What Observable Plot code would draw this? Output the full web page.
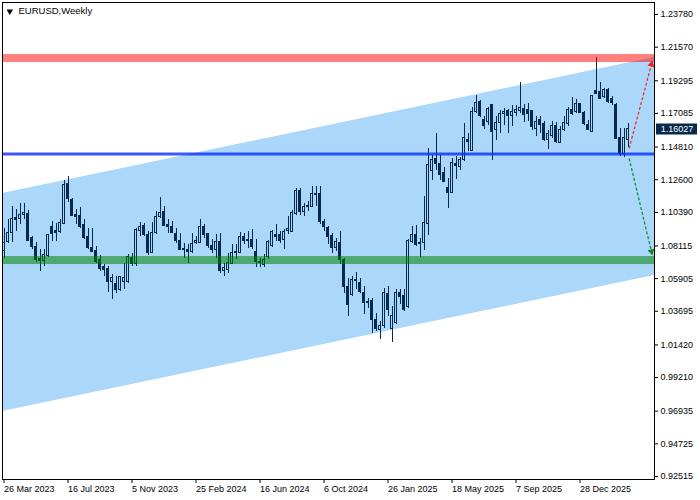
<!DOCTYPE html>
<html><head><meta charset="utf-8">
<script src="https://cdn.jsdelivr.net/npm/d3@7"></script>
<script src="https://cdn.jsdelivr.net/npm/@observablehq/plot@0.6"></script>
<style>html,body{margin:0;padding:0;background:#fff;}</style>
</head><body><div id="chart"></div>
<script>
// Weekly candles (Sunday dates) from 26 Mar 2023 to 22 Mar 2026
const firstWeek = "2023-03-26";
const lastWeek = "2026-03-22";
const open = [1.0778,1.0841,1.0902,1.0999,1.0992,1.1021,1.1028,1.0864,1.0803,1.0722,1.0713,1.0745,1.0940,1.0913,1.0909,1.0961,1.1231,1.1123,1.1021,1.1015,1.0954,1.0875,1.0796,1.0778,1.0718,1.0666,1.0655,1.0565,1.0556,1.0515,1.0568,1.0565,1.0733,1.0690,1.0916,1.0947,1.0886,1.0767,1.0898,1.1010,1.1044,1.0954,1.0943,1.0893,1.0846,1.0792,1.0785,1.0774,1.0830,1.0835,1.0938,1.0893,1.0812,1.0785,1.0841,1.0639,1.0650,1.0691,1.0763,1.0767,1.0875,1.0848,1.0853,1.0772,1.0706,1.0684,1.0740,1.0808,1.0886,1.0886,1.0853,1.0916,1.0909,1.1028,1.1186,1.1044,1.1082,1.1078,1.1156,1.1163,1.0976,1.0931,1.0879,1.0796,1.0834,1.0717,1.0537,1.0481,1.0582,1.0560,1.0492,1.0433,1.0436,1.0312,1.0245,1.0272,1.0485,1.0249,1.0290,1.0492,1.0474,1.0398,1.0841,1.0886,1.0834,1.0830,1.0960,1.1320,1.1397,1.1365,1.1302,1.1201,1.1172,1.1365,1.1343,1.1392,1.1532,1.1455,1.1719,1.1786,1.1667,1.1651,1.1764,1.1595,1.1644,1.1707,1.1725,1.1689,1.1712,1.1725,1.1741,1.1734,1.1725,1.1606,1.1667,1.1635,1.1527,1.1554,1.1622,1.1509,1.1595,1.1635,1.1734,1.1719,1.1770,1.1712,1.1629,1.1584,1.1858,1.1853,1.1820,1.1869,1.1809,1.1764,1.1545,1.1433,1.1532];
const high = [1.0931,1.0988,1.1082,1.1055,1.1096,1.1100,1.1050,1.0875,1.0835,1.0785,1.0785,1.0891,1.0976,1.0965,1.0992,1.1258,1.1280,1.1134,1.1055,1.1073,1.0988,1.0931,1.0931,1.0808,1.0745,1.0684,1.0673,1.0616,1.0605,1.0605,1.0695,1.0751,1.0763,1.0931,1.0970,1.0965,1.0909,1.0970,1.1044,1.1141,1.1078,1.0988,1.0976,1.0931,1.0898,1.0830,1.0819,1.0893,1.0875,1.0988,1.0954,1.0898,1.0853,1.0886,1.0893,1.0695,1.0763,1.0819,1.0819,1.0902,1.0898,1.0909,1.0920,1.0857,1.0729,1.0751,1.0848,1.0916,1.0954,1.0909,1.0920,1.1010,1.1051,1.1201,1.1201,1.1100,1.1111,1.1213,1.1217,1.1213,1.0988,1.0943,1.0897,1.0863,1.0908,1.0728,1.0593,1.0605,1.0632,1.0593,1.0537,1.0458,1.0458,1.0357,1.0301,1.0526,1.0537,1.0402,1.0519,1.0515,1.0515,1.0852,1.0942,1.0953,1.0863,1.1145,1.1471,1.1426,1.1573,1.1426,1.1343,1.1269,1.1404,1.1420,1.1410,1.1640,1.1572,1.1752,1.1831,1.1793,1.1689,1.1752,1.1770,1.1685,1.1730,1.1741,1.1734,1.1764,1.1764,1.1921,1.1770,1.1775,1.1730,1.1685,1.1685,1.1651,1.1595,1.1651,1.1645,1.1622,1.1685,1.1752,1.1815,1.1802,1.1775,1.1719,1.1662,1.1831,1.2085,1.1921,1.1876,1.1876,1.1820,1.1775,1.1606,1.1606,1.1640];
const low = [1.0729,1.0826,1.0834,1.0909,1.0954,1.0988,1.0841,1.0785,1.0700,1.0639,1.0673,1.0736,1.0841,1.0841,1.0898,1.0954,1.1105,1.1010,1.0954,1.0931,1.0853,1.0785,1.0767,1.0695,1.0639,1.0605,1.0497,1.0452,1.0493,1.0504,1.0520,1.0560,1.0673,1.0673,1.0875,1.0875,1.0745,1.0758,1.0886,1.0999,1.0943,1.0898,1.0893,1.0826,1.0778,1.0729,1.0691,1.0763,1.0819,1.0826,1.0864,1.0796,1.0763,1.0729,1.0628,1.0605,1.0623,1.0684,1.0722,1.0763,1.0819,1.0796,1.0785,1.0668,1.0668,1.0668,1.0718,1.0803,1.0841,1.0826,1.0785,1.0886,1.0902,1.1021,1.1021,1.1010,1.1044,1.1073,1.1078,1.0954,1.0909,1.0819,1.0762,1.0773,1.0683,1.0492,1.0335,1.0470,1.0515,1.0492,1.0346,1.0391,1.0222,1.0233,1.0178,1.0256,1.0335,1.0160,1.0278,1.0413,1.0368,1.0391,1.0830,1.0807,1.0735,1.0780,1.0880,1.1257,1.1320,1.1257,1.1239,1.1066,1.1167,1.1260,1.1320,1.1381,1.1449,1.1449,1.1707,1.1680,1.1600,1.1629,1.1392,1.1527,1.1572,1.1629,1.1572,1.1617,1.1685,1.1707,1.1650,1.1651,1.1595,1.1550,1.1572,1.1516,1.1465,1.1539,1.1505,1.1505,1.1584,1.1617,1.1696,1.1708,1.1708,1.1629,1.1590,1.1577,1.1838,1.1802,1.1809,1.1775,1.1764,1.1530,1.1415,1.1410,1.1478];
const close = [1.0834,1.0902,1.0992,1.0988,1.1021,1.1033,1.0848,1.0803,1.0718,1.0709,1.0749,1.0884,1.0893,1.0898,1.0970,1.1224,1.1127,1.1015,1.1006,1.0943,1.0864,1.0796,1.0774,1.0704,1.0655,1.0646,1.0571,1.0592,1.0511,1.0601,1.0594,1.0736,1.0688,1.0920,1.0943,1.0886,1.0763,1.0898,1.1010,1.1037,1.0947,1.0938,1.0898,1.0846,1.0785,1.0785,1.0774,1.0826,1.0846,1.0938,1.0886,1.0808,1.0785,1.0841,1.0639,1.0664,1.0695,1.0763,1.0774,1.0871,1.0848,1.0853,1.0803,1.0706,1.0695,1.0718,1.0841,1.0909,1.0875,1.0848,1.0909,1.0925,1.1033,1.1186,1.1044,1.1078,1.1075,1.1163,1.1163,1.0976,1.0938,1.0875,1.0796,1.0841,1.0720,1.0537,1.0413,1.0582,1.0575,1.0497,1.0425,1.0425,1.0312,1.0249,1.0272,1.0492,1.0375,1.0335,1.0492,1.0465,1.0380,1.0845,1.0886,1.0818,1.0825,1.0965,1.1359,1.1392,1.1365,1.1291,1.1246,1.1167,1.1370,1.1350,1.1392,1.1545,1.1516,1.1719,1.1779,1.1689,1.1622,1.1741,1.1584,1.1644,1.1707,1.1719,1.1689,1.1719,1.1730,1.1748,1.1696,1.1703,1.1617,1.1651,1.1629,1.1527,1.1568,1.1622,1.1516,1.1595,1.1644,1.1734,1.1703,1.1770,1.1712,1.1635,1.1595,1.1824,1.1842,1.1809,1.1865,1.1786,1.1779,1.1535,1.1433,1.1543,1.16027];

// Price axis labels (right) and date axis labels (bottom)
const yTicks = [1.23780,1.21570,1.19295,1.17085,1.14810,1.12600,1.10390,1.08115,1.05905,1.03695,1.01420,0.99210,0.96935,0.94725,0.92515];
const xTickDates = ["2023-03-26","2023-07-16","2023-11-05","2024-02-25","2024-06-16","2024-10-06","2025-01-26","2025-05-18","2025-09-07","2025-12-28"];
const xTickLabels = ["26 Mar 2023","16 Jul 2023","5 Nov 2023","25 Feb 2024","16 Jun 2024","6 Oct 2024","26 Jan 2025","18 May 2025","7 Sep 2025","28 Dec 2025"];

// Analysis objects
const channelUpper = [1.1167, 1.2087];   // at left and right edge
const channelLower = [0.9691, 1.0612];
const resistanceBand = [1.2053, 1.2107];
const supportBand = [1.0686, 1.0740];
const pivotLevel = 1.1434;
const arrowStartDate = "2026-03-24";
const arrowEndDate = "2026-05-02";
const upArrow = [1.1471, 1.2040];
const downArrow = [1.1404, 1.0774];
const currentPrice = 1.16027;

const navy = "#06294c";
const P = s => new Date(s + "T00:00:00Z");
const dates = d3.utcWeek.range(P(firstWeek), d3.utcDay.offset(P(lastWeek), 1));
const candles = dates.map((date, i) => ({date, open: open[i], high: high[i], low: low[i], close: close[i],
  top: Math.max(open[i], close[i]), bot: Math.min(open[i], close[i])}));
const bull = candles.filter(d => d.close >= d.open);
const bear = candles.filter(d => d.close < d.open);

const xDomain = [d3.utcHour.offset(P(firstWeek), -63), d3.utcHour.offset(P(firstWeek), 27321)];
const channel = [
  {date: xDomain[0], lo: channelLower[0], hi: channelUpper[0]},
  {date: xDomain[1], lo: channelLower[1], hi: channelUpper[1]}
];
const labelOf = new Map(xTickDates.map((d, i) => [+P(d), xTickLabels[i]]));
const arrows = [
  {x1: P(arrowStartDate), y1: upArrow[0], x2: P(arrowEndDate), y2: upArrow[1], c: "#ff1a1a", r: 15},
  {x1: P(arrowStartDate), y1: downArrow[0], x2: P(arrowEndDate), y2: downArrow[1], c: "#11881a", r: 167}
];
const half = d => [d3.utcHour.offset(d.date, -42), d3.utcHour.offset(d.date, 42)];

const chart = Plot.plot({
  width: 700, height: 500,
  marginLeft: 2, marginRight: 46, marginTop: 2, marginBottom: 21,
  style: {fontFamily: "'Liberation Sans', Arial, sans-serif", fontSize: "9px", background: "white", color: "black", overflow: "visible"},
  x: {type: "utc", domain: xDomain},
  y: {domain: [0.92312, 1.24592]},
  marks: [
    Plot.areaY(channel, {x: "date", y1: "lo", y2: "hi", fill: "#aad7fa"}),
    Plot.ruleX(candles, {x: "date", y1: "top", y2: "high", stroke: navy, strokeWidth: 1, shapeRendering: "crispEdges"}),
    Plot.ruleX(candles, {x: "date", y1: "low", y2: "bot", stroke: navy, strokeWidth: 1, shapeRendering: "crispEdges"}),
    Plot.rect(bear, {x1: d => half(d)[0], x2: d => half(d)[1], y1: "open", y2: "close", fill: navy, stroke: navy, strokeWidth: 1, shapeRendering: "crispEdges"}),
    Plot.rect(bull, {x1: d => half(d)[0], x2: d => half(d)[1], y1: "open", y2: "close", fill: "none", stroke: navy, strokeWidth: 1, shapeRendering: "crispEdges"}),
    Plot.rect([resistanceBand], {y1: d => d[0], y2: d => d[1], fill: "#ff0000", fillOpacity: 0.5}),
    Plot.rect([supportBand], {y1: d => d[0], y2: d => d[1], fill: "#008000", fillOpacity: 0.54}),
    Plot.ruleY([pivotLevel], {stroke: "#0a2eff", strokeWidth: 3, strokeOpacity: 0.8}),
    Plot.link(arrows, {x1: "x1", y1: "y1", x2: "x2", y2: "y2", stroke: "c", strokeWidth: 1.2, strokeDasharray: "3,2"}),
    Plot.dot(arrows, {x: "x2", y: "y2", symbol: "triangle", r: 2.6, rotate: "r", fill: "c", stroke: "none"}),
    Plot.frame({stroke: "black", shapeRendering: "crispEdges"}),
    Plot.axisX({ticks: xTickDates.map(P), tickFormat: d => labelOf.get(+d), tickSize: 4, tickPadding: 2, textAnchor: "start", label: null, fontSize: 9}),
    Plot.axisY({anchor: "right", ticks: yTicks, tickFormat: d => d.toFixed(5), tickSize: 3, tickPadding: 3, label: null, fontSize: 9}),
    Plot.ruleY([currentPrice], {stroke: navy, strokeWidth: 11, insetLeft: 654, insetRight: -43}),
    Plot.text([currentPrice], {y: d => d, text: d => d.toFixed(5), frameAnchor: "right", dx: 22.5, textAnchor: "middle", fill: "white", fontSize: 9}),
    Plot.dot([0], {frameAnchor: "top-left", dx: 7.3, dy: 8.8, symbol: "triangle", r: 2.4, rotate: 180, fill: "black", stroke: "none"}),
    Plot.text(["EURUSD,Weekly"], {frameAnchor: "top-left", dx: 16, dy: 5, textAnchor: "start", lineAnchor: "top", fill: "black", fontSize: 9.5})
  ]
});
document.getElementById("chart").appendChild(chart);
</script>
</body></html>
